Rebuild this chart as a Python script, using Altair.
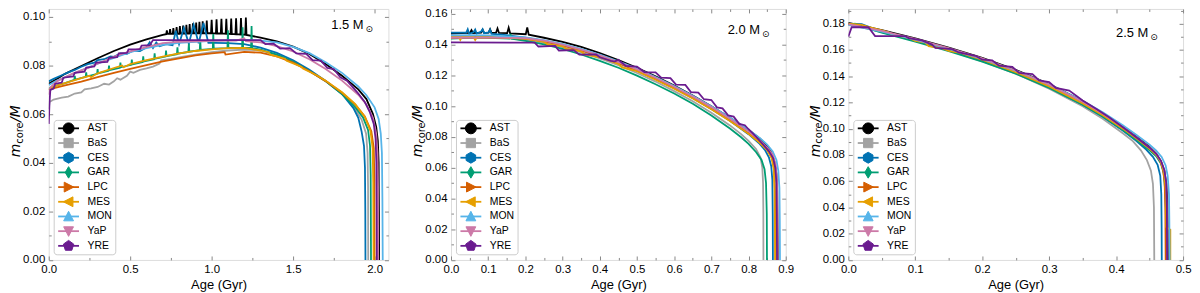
import altair as alt
import pandas as pd

FONT = "Liberation Sans, Arial, sans-serif"
MATHFONT = "DejaVu Sans"
FRAME = "#333333"

MODELS = ["AST", "BaS", "CES", "GAR", "LPC", "MES", "MON", "YaP", "YRE"]
COLORS = ["#000000", "#A3A3A3", "#0072B2", "#009E73", "#D55E00", "#E69F00", "#56B4E9", "#CC79A7", "#6A1B8F"]

MARKERS = [
    "M1,0A1,1,0,1,1,-1,0A1,1,0,1,1,1,0Z",
    "M-0.85,-0.85H0.85V0.85H-0.85Z",
    "M0,-1L0.87,-0.5L0.87,0.5L0,1L-0.87,0.5L-0.87,-0.5Z",
    "M0,-1.05L0.62,0L0,1.05L-0.62,0Z",
    "M0.95,0L-0.8,-0.9L-0.8,0.9Z",
    "M-0.95,0L0.8,-0.9L0.8,0.9Z",
    "M0,-0.95L0.9,0.8L-0.9,0.8Z",
    "M0,0.95L0.9,-0.8L-0.9,-0.8Z",
    "M0,-1L0.95,-0.31L0.59,0.81L-0.59,0.81L-0.95,-0.31Z",
]

# ---------------- Panel 1 : 1.5 Msun ----------------
P1_AST = [(0.0, 0.0725), (0.05, 0.0745), (0.10, 0.0766), (0.20, 0.0798), (0.30, 0.0830), (0.40, 0.0860),
          (0.50, 0.0886), (0.60, 0.0908), (0.70, 0.0926),
          (0.721, 0.0929), (0.725, 0.0945), (0.729, 0.0930), (0.741, 0.0930), (0.745, 0.0950), (0.749, 0.0930),
          (0.761, 0.0930), (0.765, 0.0954), (0.769, 0.0931), (0.781, 0.0931), (0.785, 0.0958), (0.789, 0.0931),
          (0.801, 0.0931), (0.805, 0.0962), (0.809, 0.0932), (0.821, 0.0932), (0.825, 0.0965), (0.829, 0.0932),
          (0.841, 0.0932), (0.845, 0.0968), (0.849, 0.0932), (0.861, 0.0932), (0.865, 0.0971), (0.869, 0.0933),
          (0.881, 0.0933), (0.885, 0.0974), (0.889, 0.0933), (0.901, 0.0933), (0.905, 0.0977), (0.909, 0.0933),
          (0.921, 0.0933), (0.925, 0.0980), (0.929, 0.0933), (0.941, 0.0933), (0.945, 0.0982), (0.949, 0.0933),
          (0.966, 0.0933), (0.970, 0.0985), (0.974, 0.0933), (0.996, 0.0933), (1.000, 0.0988), (1.004, 0.0933),
          (1.026, 0.0932), (1.030, 0.0990), (1.034, 0.0932), (1.056, 0.0932), (1.060, 0.0992), (1.064, 0.0932),
          (1.086, 0.0931), (1.090, 0.0993), (1.094, 0.0931), (1.116, 0.0930), (1.120, 0.0994), (1.124, 0.0930),
          (1.146, 0.0929), (1.150, 0.0995), (1.154, 0.0929), (1.176, 0.0928), (1.180, 0.0996), (1.184, 0.0928),
          (1.206, 0.0927), (1.210, 0.0998), (1.214, 0.0926),
          (1.30, 0.0915), (1.40, 0.0900), (1.50, 0.0878), (1.60, 0.0848), (1.70, 0.0806), (1.80, 0.0758),
          (1.90, 0.0702), (1.95, 0.0662), (1.99, 0.0600), (2.01, 0.0548), (2.020, 0.0490), (2.025, 0.0400),
          (2.027, 0.0200), (2.028, 0.0)]
P1_BaS = [(0.0, 0.0620), (0.005, 0.0650), (0.03, 0.0660), (0.08, 0.0668), (0.12, 0.0672), (0.16, 0.0685),
          (0.20, 0.0690), (0.22, 0.0702), (0.26, 0.0706), (0.30, 0.0712), (0.34, 0.0725), (0.37, 0.0722),
          (0.40, 0.0735), (0.42, 0.0748), (0.44, 0.0742), (0.48, 0.0758), (0.50, 0.0775), (0.52, 0.0770),
          (0.56, 0.0782), (0.60, 0.0788), (0.64, 0.0796), (0.68, 0.0808), (0.69, 0.0822), (0.75, 0.0828),
          (0.80, 0.0834), (0.90, 0.0845), (1.00, 0.0855), (1.10, 0.0862), (1.20, 0.0866), (1.30, 0.0862),
          (1.40, 0.0845), (1.50, 0.0817), (1.60, 0.0780), (1.70, 0.0736), (1.80, 0.0684), (1.87, 0.0632),
          (1.92, 0.0578), (1.948, 0.0520), (1.957, 0.0440), (1.960, 0.0300), (1.961, 0.0)]
P1_CES = [(0.0, 0.0735), (0.03, 0.0745), (0.08, 0.0760), (0.12, 0.0772), (0.16, 0.0782), (0.20, 0.0795),
          (0.24, 0.0806), (0.28, 0.0812), (0.30, 0.0822), (0.34, 0.0826), (0.38, 0.0838), (0.40, 0.0836),
          (0.44, 0.0850), (0.48, 0.0848), (0.52, 0.0862), (0.56, 0.0860), (0.60, 0.0875), (0.62, 0.0896),
          (0.64, 0.0872), (0.66, 0.0895), (0.68, 0.0880), (0.72, 0.0888), (0.76, 0.0884), (0.78, 0.0943),
          (0.80, 0.0888), (0.83, 0.0955), (0.86, 0.0890), (0.89, 0.0968), (0.92, 0.0892), (0.95, 0.0975),
          (0.98, 0.0893), (1.02, 0.0893), (1.10, 0.0892), (1.20, 0.0888), (1.30, 0.0874), (1.40, 0.0852),
          (1.50, 0.0822), (1.60, 0.0783), (1.70, 0.0737), (1.80, 0.0683), (1.87, 0.0625), (1.90, 0.0585),
          (1.92, 0.0530), (1.935, 0.0470), (1.941, 0.0380), (1.943, 0.0200), (1.944, 0.0)]
P1_GAR = [(0.0, 0.0705), (0.05, 0.0718), (0.10, 0.0728), (0.157, 0.0741), (0.16, 0.0758), (0.163, 0.0742),
          (0.227, 0.0754), (0.23, 0.0772), (0.233, 0.0755), (0.297, 0.0766), (0.30, 0.0785), (0.303, 0.0768),
          (0.367, 0.0779), (0.37, 0.0800), (0.373, 0.0781), (0.437, 0.0791), (0.44, 0.0812), (0.443, 0.0793),
          (0.507, 0.0803), (0.51, 0.0825), (0.513, 0.0805), (0.577, 0.0815), (0.58, 0.0838), (0.583, 0.0817),
          (0.647, 0.0826), (0.65, 0.0850), (0.653, 0.0828), (0.717, 0.0837), (0.72, 0.0862), (0.723, 0.0839),
          (0.787, 0.0847), (0.79, 0.0875), (0.793, 0.0849), (0.857, 0.0856), (0.86, 0.0890), (0.863, 0.0857),
          (0.927, 0.0863), (0.93, 0.0905), (0.933, 0.0864), (1.007, 0.0869), (1.01, 0.0930), (1.013, 0.0870),
          (1.097, 0.0872), (1.10, 0.0945), (1.103, 0.0873), (1.187, 0.0874), (1.19, 0.0958), (1.193, 0.0874),
          (1.242, 0.0873), (1.245, 0.0963), (1.248, 0.0872), (1.30, 0.0866), (1.40, 0.0845), (1.50, 0.0815),
          (1.60, 0.0778), (1.70, 0.0735), (1.80, 0.0683), (1.88, 0.0630), (1.93, 0.0585), (1.96, 0.0535),
          (1.972, 0.0470), (1.976, 0.0350), (1.978, 0.0)]
P1_LPC = [(0.0, 0.0700), (0.02, 0.0705), (0.10, 0.0718), (0.20, 0.0734), (0.30, 0.0752), (0.40, 0.0770),
          (0.50, 0.0786), (0.60, 0.0802), (0.70, 0.0817), (0.80, 0.0830), (0.90, 0.0842), (1.00, 0.0850),
          (1.08, 0.0855), (1.085, 0.0845), (1.20, 0.0856), (1.30, 0.0853), (1.40, 0.0838), (1.50, 0.0812),
          (1.60, 0.0777), (1.70, 0.0736), (1.80, 0.0688), (1.88, 0.0640), (1.94, 0.0590), (1.98, 0.0530),
          (1.995, 0.0460), (1.999, 0.0330), (2.0, 0.0)]
P1_MES = [(0.0, 0.0700), (0.02, 0.0712), (0.10, 0.0728), (0.20, 0.0748), (0.25, 0.0758), (0.26, 0.0752),
          (0.30, 0.0768), (0.40, 0.0790), (0.45, 0.0800), (0.46, 0.0793), (0.50, 0.0806), (0.60, 0.0822),
          (0.70, 0.0837), (0.80, 0.0850), (0.90, 0.0860), (1.00, 0.0867), (1.10, 0.0872), (1.20, 0.0873),
          (1.30, 0.0862), (1.35, 0.0855), (1.36, 0.0845), (1.45, 0.0828), (1.46, 0.0820), (1.55, 0.0795),
          (1.56, 0.0788), (1.65, 0.0758), (1.70, 0.0738), (1.80, 0.0690), (1.88, 0.0642), (1.94, 0.0590),
          (1.975, 0.0530), (1.988, 0.0460), (1.992, 0.0320), (1.994, 0.0)]
P1_MON = [(0.0, 0.0720), (0.05, 0.0738), (0.10, 0.0752), (0.20, 0.0780), (0.30, 0.0808), (0.40, 0.0832),
          (0.50, 0.0855), (0.60, 0.0872), (0.70, 0.0885), (0.80, 0.0893), (0.90, 0.0898), (1.00, 0.0902),
          (1.10, 0.0905), (1.20, 0.0906), (1.30, 0.0903), (1.40, 0.0895), (1.50, 0.0877), (1.60, 0.0851),
          (1.70, 0.0814), (1.80, 0.0770), (1.90, 0.0714), (1.95, 0.0678), (2.00, 0.0628), (2.025, 0.0580),
          (2.038, 0.0520), (2.045, 0.0440), (2.048, 0.0250), (2.05, 0.0)]
P1_YaP = [(0.0, 0.0680), (0.01, 0.0710), (0.05, 0.0735), (0.10, 0.0752), (0.15, 0.0768), (0.20, 0.0780),
          (0.25, 0.0792), (0.30, 0.0808), (0.35, 0.0822), (0.40, 0.0836), (0.45, 0.0848), (0.50, 0.0858),
          (0.55, 0.0868), (0.60, 0.0876), (0.65, 0.0884), (0.70, 0.0892), (0.75, 0.0895), (0.80, 0.0898),
          (0.90, 0.0900), (1.00, 0.0902), (1.15, 0.0903), (1.20, 0.0912), (1.21, 0.0900), (1.30, 0.0895),
          (1.40, 0.0880), (1.50, 0.0858), (1.60, 0.0826), (1.70, 0.0786), (1.80, 0.0738), (1.90, 0.0680),
          (1.95, 0.0640), (1.99, 0.0585), (2.01, 0.0520), (2.018, 0.0440), (2.021, 0.0300), (2.022, 0.0)]
P1_YRE = [(0.0, 0.0560), (0.005, 0.0650), (0.01, 0.0700), (0.03, 0.0705), (0.04, 0.0725), (0.08, 0.0730),
          (0.09, 0.0750), (0.15, 0.0755), (0.16, 0.0770), (0.22, 0.0775), (0.23, 0.0792), (0.28, 0.0796),
          (0.29, 0.0812), (0.36, 0.0815), (0.37, 0.0832), (0.42, 0.0835), (0.43, 0.0850), (0.48, 0.0852),
          (0.49, 0.0867), (0.56, 0.0868), (0.57, 0.0882), (0.62, 0.0884), (0.64, 0.0905), (1.30, 0.0905),
          (1.33, 0.0888), (1.38, 0.0890), (1.42, 0.0870), (1.48, 0.0872), (1.52, 0.0850), (1.58, 0.0848),
          (1.62, 0.0822), (1.67, 0.0820), (1.71, 0.0790), (1.75, 0.0785), (1.79, 0.0752), (1.83, 0.0738),
          (1.87, 0.0708), (1.90, 0.0685), (1.94, 0.0650), (1.97, 0.0610), (1.995, 0.0560), (2.006, 0.0500),
          (2.011, 0.0400), (2.013, 0.0200), (2.014, 0.0)]

# ---------------- Panel 2 : 2.0 Msun ----------------
P2_AST = [(0.0, 0.1472), (0.03, 0.1475), (0.051, 0.1477), (0.055, 0.1495), (0.059, 0.1476), (0.081, 0.1478),
          (0.085, 0.1497), (0.089, 0.1477), (0.101, 0.1478), (0.105, 0.1500), (0.109, 0.1477), (0.121, 0.1477),
          (0.125, 0.1505), (0.129, 0.1476), (0.151, 0.1475), (0.155, 0.1510), (0.159, 0.1474), (0.201, 0.1468),
          (0.205, 0.1512), (0.209, 0.1465), (0.25, 0.1445), (0.30, 0.1418), (0.35, 0.1385), (0.40, 0.1345),
          (0.45, 0.1300), (0.50, 0.1250), (0.55, 0.1195), (0.60, 0.1135), (0.65, 0.1070), (0.70, 0.1000),
          (0.75, 0.0925), (0.80, 0.0845), (0.83, 0.0790), (0.85, 0.0742), (0.862, 0.0695), (0.870, 0.0635),
          (0.875, 0.0560), (0.877, 0.0450), (0.878, 0.0200), (0.879, 0.0)]
P2_BaS = [(0.0, 0.1450), (0.10, 0.1452), (0.20, 0.1432), (0.25, 0.1412), (0.30, 0.1384), (0.35, 0.1350),
          (0.40, 0.1310), (0.45, 0.1266), (0.50, 0.1216), (0.55, 0.1160), (0.60, 0.1098), (0.65, 0.1032),
          (0.70, 0.0958), (0.75, 0.0875), (0.78, 0.0818), (0.80, 0.0775), (0.82, 0.0722), (0.832, 0.0668),
          (0.837, 0.0600), (0.839, 0.0500), (0.8398, 0.0300), (0.840, 0.0)]
P2_CES = [(0.0, 0.1478), (0.041, 0.1478), (0.045, 0.1500), (0.049, 0.1470), (0.061, 0.1482), (0.065, 0.1498),
          (0.069, 0.1472), (0.081, 0.1485), (0.085, 0.1500), (0.089, 0.1475), (0.101, 0.1480), (0.105, 0.1498),
          (0.109, 0.1470), (0.15, 0.1462), (0.20, 0.1445), (0.25, 0.1425), (0.30, 0.1398), (0.35, 0.1364),
          (0.40, 0.1325), (0.45, 0.1282), (0.50, 0.1233), (0.55, 0.1178), (0.60, 0.1118), (0.65, 0.1053),
          (0.70, 0.0982), (0.75, 0.0905), (0.80, 0.0818), (0.83, 0.0755), (0.845, 0.0712), (0.855, 0.0665),
          (0.861, 0.0610), (0.864, 0.0520), (0.865, 0.0300), (0.8655, 0.0)]
P2_GAR = [(0.0, 0.1440), (0.05, 0.1445), (0.10, 0.1445), (0.157, 0.1440), (0.16, 0.1470), (0.163, 0.1438),
          (0.20, 0.1425), (0.25, 0.1402), (0.30, 0.1372), (0.35, 0.1336), (0.40, 0.1295), (0.45, 0.1250),
          (0.50, 0.1199), (0.55, 0.1143), (0.60, 0.1082), (0.65, 0.1016), (0.70, 0.0940), (0.75, 0.0855),
          (0.78, 0.0798), (0.80, 0.0755), (0.82, 0.0702), (0.835, 0.0650), (0.843, 0.0590), (0.847, 0.0500),
          (0.849, 0.0300), (0.8495, 0.0)]
P2_LPC = [(0.0, 0.1445), (0.10, 0.1448), (0.20, 0.1440), (0.25, 0.1422), (0.30, 0.1395), (0.35, 0.1362),
          (0.40, 0.1323), (0.45, 0.1280), (0.50, 0.1231), (0.55, 0.1177), (0.60, 0.1118), (0.65, 0.1054),
          (0.70, 0.0984), (0.75, 0.0908), (0.80, 0.0825), (0.83, 0.0766), (0.85, 0.0718), (0.863, 0.0665),
          (0.869, 0.0590), (0.871, 0.0450), (0.872, 0.0200), (0.8725, 0.0)]
P2_MES = [(0.0, 0.1455), (0.02, 0.1455), (0.025, 0.1432), (0.03, 0.1455), (0.06, 0.1452), (0.065, 0.1430),
          (0.07, 0.1450), (0.12, 0.1448), (0.20, 0.1440), (0.25, 0.1418), (0.26, 0.1402), (0.30, 0.1390),
          (0.31, 0.1372), (0.35, 0.1356), (0.36, 0.1336), (0.40, 0.1318), (0.45, 0.1275), (0.46, 0.1252),
          (0.50, 0.1228), (0.55, 0.1172), (0.60, 0.1113), (0.65, 0.1050), (0.70, 0.0980), (0.75, 0.0903),
          (0.80, 0.0820), (0.83, 0.0762), (0.85, 0.0714), (0.862, 0.0662), (0.868, 0.0590), (0.870, 0.0460),
          (0.871, 0.0200), (0.8715, 0.0)]
P2_MON = [(0.0, 0.1460), (0.05, 0.1462), (0.10, 0.1460), (0.20, 0.1448), (0.25, 0.1430), (0.30, 0.1405),
          (0.35, 0.1373), (0.40, 0.1335), (0.45, 0.1292), (0.50, 0.1244), (0.55, 0.1190), (0.60, 0.1131),
          (0.65, 0.1068), (0.70, 0.1000), (0.75, 0.0926), (0.80, 0.0847), (0.83, 0.0794), (0.85, 0.0750),
          (0.865, 0.0706), (0.875, 0.0650), (0.880, 0.0580), (0.883, 0.0470), (0.884, 0.0250), (0.8845, 0.0)]
P2_YaP = [(0.0, 0.1445), (0.10, 0.1446), (0.20, 0.1442), (0.25, 0.1426), (0.30, 0.1400), (0.35, 0.1368),
          (0.40, 0.1330), (0.45, 0.1287), (0.50, 0.1239), (0.55, 0.1185), (0.60, 0.1126), (0.65, 0.1063),
          (0.70, 0.0994), (0.75, 0.0918), (0.80, 0.0836), (0.83, 0.0778), (0.85, 0.0730), (0.865, 0.0684),
          (0.873, 0.0620), (0.877, 0.0500), (0.878, 0.0250), (0.8785, 0.0)]
P2_YRE = [(0.0, 0.1415), (0.225, 0.1413), (0.235, 0.1388), (0.28, 0.1392), (0.29, 0.1362), (0.33, 0.1365),
          (0.345, 0.1335), (0.39, 0.1336), (0.40, 0.1318), (0.43, 0.1295), (0.44, 0.1290), (0.45, 0.1302),
          (0.47, 0.1262), (0.50, 0.1258), (0.52, 0.1222), (0.55, 0.1220), (0.565, 0.1185), (0.59, 0.1182),
          (0.605, 0.1140), (0.63, 0.1138), (0.645, 0.1092), (0.665, 0.1088), (0.68, 0.1045), (0.70, 0.1040),
          (0.715, 0.0992), (0.73, 0.0986), (0.745, 0.0940), (0.76, 0.0932), (0.775, 0.0885), (0.79, 0.0876),
          (0.80, 0.0850), (0.82, 0.0802), (0.84, 0.0748), (0.855, 0.0706), (0.866, 0.0662), (0.872, 0.0600),
          (0.875, 0.0500), (0.876, 0.0300), (0.8765, 0.0)]

# ---------------- Panel 3 : 2.5 Msun ----------------
P3_AST = [(0.0, 0.1805), (0.05, 0.1750), (0.10, 0.1688), (0.15, 0.1618), (0.20, 0.1540), (0.25, 0.1448),
          (0.30, 0.1340), (0.35, 0.1210), (0.38, 0.1118), (0.41, 0.1015), (0.43, 0.0940), (0.45, 0.0860),
          (0.46, 0.0808), (0.467, 0.0750), (0.472, 0.0680), (0.475, 0.0580), (0.4765, 0.0450), (0.477, 0.0250),
          (0.4772, 0.0)]
P3_BaS = [(0.0, 0.1795), (0.05, 0.1735), (0.10, 0.1668), (0.15, 0.1595), (0.20, 0.1513), (0.25, 0.1418),
          (0.30, 0.1305), (0.35, 0.1170), (0.38, 0.1075), (0.41, 0.0965), (0.425, 0.0905), (0.437, 0.0835),
          (0.446, 0.0760), (0.452, 0.0680), (0.455, 0.0580), (0.4565, 0.0400), (0.457, 0.0)]
P3_CES = [(0.0, 0.1800), (0.02, 0.1795), (0.05, 0.1738), (0.10, 0.1672), (0.15, 0.1600), (0.20, 0.1520),
          (0.25, 0.1425), (0.30, 0.1315), (0.35, 0.1182), (0.38, 0.1090), (0.41, 0.0985), (0.43, 0.0908),
          (0.445, 0.0840), (0.455, 0.0785), (0.462, 0.0725), (0.466, 0.0640), (0.4675, 0.0500), (0.468, 0.0250),
          (0.4682, 0.0)]
P3_GAR = [(0.0, 0.1790), (0.01, 0.1800), (0.015, 0.1785), (0.05, 0.1732), (0.10, 0.1663), (0.15, 0.1590),
          (0.20, 0.1510), (0.25, 0.1418), (0.30, 0.1310), (0.35, 0.1182), (0.38, 0.1092), (0.41, 0.0990),
          (0.43, 0.0915), (0.45, 0.0835), (0.46, 0.0790), (0.467, 0.0735), (0.471, 0.0660), (0.4735, 0.0520),
          (0.4745, 0.0300), (0.475, 0.0)]
P3_LPC = [(0.0, 0.1795), (0.05, 0.1742), (0.10, 0.1678), (0.15, 0.1606), (0.20, 0.1527), (0.25, 0.1435),
          (0.30, 0.1327), (0.35, 0.1198), (0.38, 0.1107), (0.41, 0.1005), (0.43, 0.0930), (0.45, 0.0850),
          (0.46, 0.0802), (0.466, 0.0752), (0.470, 0.0690), (0.4725, 0.0590), (0.4735, 0.0400), (0.474, 0.0)]
P3_MES = [(0.0, 0.1800), (0.02, 0.1790), (0.03, 0.1775), (0.06, 0.1735), (0.065, 0.1718), (0.09, 0.1692),
          (0.10, 0.1668), (0.115, 0.1655), (0.12, 0.1628), (0.14, 0.1612), (0.15, 0.1592), (0.17, 0.1575),
          (0.18, 0.1555), (0.20, 0.1525), (0.25, 0.1430), (0.30, 0.1322), (0.35, 0.1192), (0.38, 0.1102),
          (0.41, 0.1000), (0.43, 0.0926), (0.45, 0.0847), (0.46, 0.0800), (0.467, 0.0750), (0.471, 0.0680),
          (0.4735, 0.0580), (0.4745, 0.0450), (0.475, 0.0250), (0.481, 0.0230), (0.481, 0.0)]
P3_MON = [(0.0, 0.1790), (0.05, 0.1738), (0.10, 0.1678), (0.15, 0.1608), (0.20, 0.1532), (0.25, 0.1442),
          (0.30, 0.1337), (0.35, 0.1212), (0.38, 0.1124), (0.41, 0.1025), (0.43, 0.0953), (0.45, 0.0877),
          (0.46, 0.0832), (0.468, 0.0785), (0.474, 0.0720), (0.477, 0.0640), (0.479, 0.0500), (0.4795, 0.0300),
          (0.480, 0.0)]
P3_YaP = [(0.0, 0.1795), (0.05, 0.1745), (0.10, 0.1683), (0.15, 0.1613), (0.20, 0.1535), (0.25, 0.1443),
          (0.30, 0.1335), (0.35, 0.1205), (0.38, 0.1113), (0.41, 0.1010), (0.43, 0.0935), (0.45, 0.0855),
          (0.46, 0.0806), (0.467, 0.0752), (0.472, 0.0682), (0.4748, 0.0580), (0.4758, 0.0400), (0.4762, 0.0)]
P3_YRE = [(0.0, 0.1700), (0.005, 0.1772), (0.03, 0.1772), (0.04, 0.1705), (0.085, 0.1705), (0.09, 0.1690),
          (0.11, 0.1672), (0.125, 0.1640), (0.13, 0.1615), (0.155, 0.1605), (0.165, 0.1580), (0.19, 0.1555),
          (0.20, 0.1525), (0.215, 0.1520), (0.225, 0.1480), (0.245, 0.1470), (0.255, 0.1425), (0.275, 0.1415),
          (0.285, 0.1368), (0.30, 0.1355), (0.31, 0.1310), (0.33, 0.1290), (0.35, 0.1215), (0.37, 0.1152),
          (0.39, 0.1085), (0.41, 0.1010), (0.43, 0.0935), (0.45, 0.0855), (0.46, 0.0808), (0.467, 0.0755),
          (0.472, 0.0685), (0.4748, 0.0590), (0.4758, 0.0400), (0.4762, 0.0)]

P1 = dict(zip(MODELS, [P1_AST, P1_BaS, P1_CES, P1_GAR, P1_LPC, P1_MES, P1_MON, P1_YaP, P1_YRE]))
P2 = dict(zip(MODELS, [P2_AST, P2_BaS, P2_CES, P2_GAR, P2_LPC, P2_MES, P2_MON, P2_YaP, P2_YRE]))
P3 = dict(zip(MODELS, [P3_AST, P3_BaS, P3_CES, P3_GAR, P3_LPC, P3_MES, P3_MON, P3_YaP, P3_YRE]))

X1_MAJOR = [0.0, 0.5, 1.0, 1.5, 2.0]
X1_MINOR = [0.25, 0.75, 1.25, 1.75]
Y1_MAJOR = [0.0, 0.02, 0.04, 0.06, 0.08, 0.10]
Y1_MINOR = [0.01, 0.03, 0.05, 0.07, 0.09]
X2_MAJOR = [0.0, 0.1, 0.2, 0.3, 0.4, 0.5, 0.6, 0.7, 0.8, 0.9]
X2_MINOR = [0.05, 0.15, 0.25, 0.35, 0.45, 0.55, 0.65, 0.75, 0.85]
Y2_MAJOR = [0.0, 0.02, 0.04, 0.06, 0.08, 0.10, 0.12, 0.14, 0.16]
Y2_MINOR = [0.01, 0.03, 0.05, 0.07, 0.09, 0.11, 0.13, 0.15]
X3_MAJOR = [0.0, 0.1, 0.2, 0.3, 0.4, 0.5]
X3_MINOR = [0.05, 0.15, 0.25, 0.35, 0.45]
Y3_MAJOR = [0.0, 0.02, 0.04, 0.06, 0.08, 0.10, 0.12, 0.14, 0.16, 0.18]
Y3_MINOR = [0.01, 0.03, 0.05, 0.07, 0.09, 0.11, 0.13, 0.15, 0.17, 0.19]

MASS_LABELS = ["1.5 M", "2.0 M", "2.5 M"]
SUN = "\u2299"

MAJ, MIN = 4, 2.5
LABEL_SIZE = 11.5
TITLE_SIZE = 13


def panel(series, xdom, ydom, xmaj, xmin, ymaj, ymin, w, h, label, lab_x, lab_y):
    rows = []
    for m in MODELS:
        for i, (a, v) in enumerate(series[m]):
            rows.append({"model": m, "idx": i, "age": a, "val": v})
    df = pd.DataFrame(rows)
    one = pd.DataFrame({"age": [xdom[0]], "val": [ydom[0]]})
    leg_df = pd.DataFrame({"model": MODELS})
    xs = alt.Scale(domain=xdom, nice=False, zero=False)
    ys = alt.Scale(domain=ydom, nice=False, zero=False)
    cscale = alt.Scale(domain=MODELS, range=COLORS)

    lines = alt.Chart(df).mark_line(strokeWidth=1.8, clip=True).encode(
        x=alt.X("age:Q", scale=xs, axis=alt.Axis(
            orient="bottom", values=xmaj, format=".1f", tickSize=MAJ, offset=-MAJ, domain=False,
            grid=False, labelPadding=4, labelFlush=False, labelOverlap=False, title="Age (Gyr)",
            titlePadding=3, titleFontWeight="normal", titleFontSize=TITLE_SIZE, titleFont=FONT,
            labelFontSize=LABEL_SIZE, labelFont=FONT, titleColor="black", labelColor="black")),
        y=alt.Y("val:Q", scale=ys, axis=alt.Axis(
            orient="left", values=ymaj, format=".2f", tickSize=MAJ, offset=-MAJ, domain=False,
            grid=False, labelPadding=4, labelOverlap=False, labelFlush=False, title=None,
            labelFontSize=LABEL_SIZE, labelFont=FONT, labelColor="black")),
        color=alt.Color("model:N", scale=cscale, legend=None),
        order=alt.Order("idx:Q"),
    )

    def ticks(xo, yo, xv, yv, size):
        return alt.Chart(one).mark_point(opacity=0).encode(
            x=alt.X("age:Q", scale=xs, axis=alt.Axis(
                orient=xo, values=xv, tickSize=size, offset=-size, labels=False, domain=False,
                grid=False, title=None)),
            y=alt.Y("val:Q", scale=ys, axis=alt.Axis(
                orient=yo, values=yv, tickSize=size, offset=-size, labels=False, domain=False,
                grid=False, title=None)),
        )

    # legend drawn as marks (box, line stubs, markers, labels)
    ypos = alt.Y("model:N", scale=alt.Scale(type="point", domain=MODELS, range=[h - 132.5, h - 14.2],
                                             padding=0), axis=None)
    box = alt.Chart(one).mark_rect(fill="white", stroke="#cccccc", strokeWidth=1, cornerRadius=3).encode(
        x=alt.value(5.5), x2=alt.value(67.5), y=alt.value(h - 140.5), y2=alt.value(h - 5.2))
    stubs = alt.Chart(leg_df).mark_rule(strokeWidth=1.8).encode(
        x=alt.value(9.5), x2=alt.value(30.5), y=ypos, color=alt.Color("model:N", scale=cscale, legend=None))
    marks = alt.Chart(leg_df).mark_point(filled=True, size=121, opacity=1, strokeWidth=1).encode(
        x=alt.value(20), y=ypos,
        fill=alt.Fill("model:N", scale=cscale, legend=None),
        stroke=alt.Stroke("model:N", scale=cscale, legend=None),
        shape=alt.Shape("model:N", scale=alt.Scale(domain=MODELS, range=MARKERS), legend=None),
    )
    labs = alt.Chart(leg_df).mark_text(align="left", baseline="middle", fontSize=10.5, font=FONT,
                                       color="black").encode(x=alt.value(39), y=ypos, text="model:N")

    def txt(s, x, y, size, italic=False, angle=0, align="left", baseline="alphabetic", font=FONT):
        return alt.Chart(one).mark_text(
            text=s, fontSize=size, fontStyle="italic" if italic else "normal", angle=angle,
            align=align, baseline=baseline, font=font, color="black",
        ).encode(x=alt.value(x), y=alt.value(y))

    # y-axis title  m_core / M  (rotated, reading upwards)
    c = h / 2 - 3
    bx = -29
    start = c + 26
    texts = [
        txt("m", bx, start, 14, italic=True, angle=270, font=MATHFONT),
        txt("core", bx + 3, start - 13.6, 10, angle=270, font=MATHFONT),
        txt("/M", bx, start - 13.6 - 21.9, 14, italic=True, angle=270, font=MATHFONT),
        txt(label, lab_x, lab_y, 13, align="right", baseline="middle"),
        txt(SUN, lab_x + 2, lab_y + 4, 9, align="left", baseline="middle", font="DejaVu Sans"),
    ]

    return alt.layer(
        lines, ticks("bottom", "left", xmin, ymin, MIN), ticks("top", "right", xmaj, ymaj, MAJ),
        ticks("top", "right", xmin, ymin, MIN), box, stubs, marks, labs, *texts
    ).resolve_scale(x="independent", y="independent").properties(width=w, height=h)


H = 252.7
p1 = panel(P1, [0, 2.085], [0, 0.1033], X1_MAJOR, X1_MINOR, Y1_MAJOR, Y1_MINOR, 342, H,
           MASS_LABELS[0], 317, 16.3)
p2 = panel(P2, [0, 0.9], [0, 0.16323], X2_MAJOR, X2_MINOR, Y2_MAJOR, Y2_MINOR, 337, H,
           MASS_LABELS[1], 311, 21.2)
p3 = panel(P3, [0, 0.5], [0, 0.19115], X3_MAJOR, X3_MINOR, Y3_MAJOR, Y3_MINOR, 337, H,
           MASS_LABELS[2], 302, 24.3)

chart = alt.hconcat(p1, p2, p3, spacing=63, bounds="flush").resolve_scale(
    color="independent", fill="independent", stroke="independent", shape="independent"
).properties(
    padding={"left": 0, "top": -2, "right": 0, "bottom": 0}
).configure_view(
    stroke=FRAME, strokeWidth=1
).configure_axis(
    labelFont=FONT, labelFontSize=LABEL_SIZE, labelColor="black", titleFont=FONT, titleFontSize=TITLE_SIZE,
    titleFontWeight="normal", titleColor="black", tickColor=FRAME, tickWidth=1
).configure(background="white")

chart.save("out.html", embed_options={"renderer": "svg", "actions": False})
